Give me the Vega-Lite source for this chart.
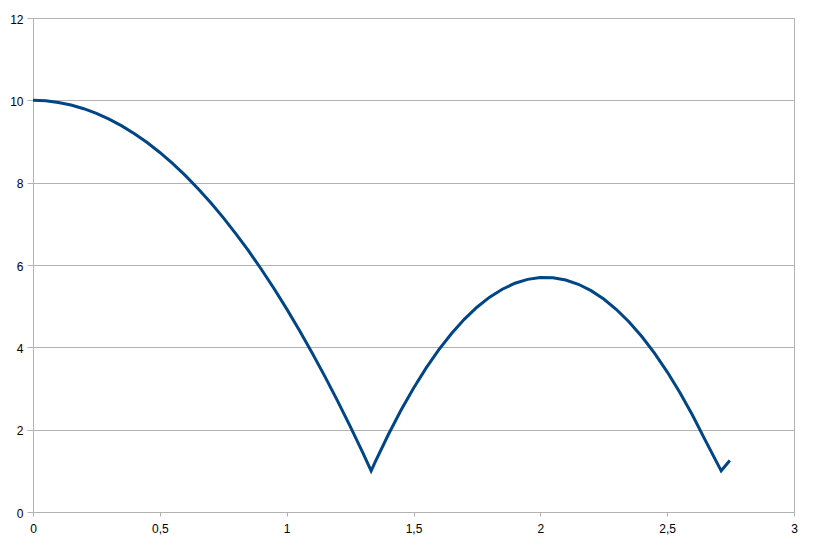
{
  "$schema": "https://vega.github.io/schema/vega-lite/v6.json",
  "width": 761,
  "height": 494,
  "autosize": "none",
  "padding": {"left": 33, "top": 18, "right": 27, "bottom": 36},
  "background": "white",
  "config": {
    "view": {"stroke": "#b3b3b3", "strokeWidth": 1},
    "font": "Liberation Sans",
    "axis": {
      "labelFont": "Liberation Sans",
      "labelFontSize": 12,
      "labelColor": "#000000",
      "domainColor": "#b3b3b3",
      "tickColor": "#b3b3b3",
      "gridColor": "#b3b3b3",
      "title": null
    }
  },
  "data": {
    "values": [
      {"t": 0, "h": 10}, {"t": 0.05, "h": 9.99}, {"t": 0.1, "h": 9.949}, {"t": 0.15, "h": 9.886},
      {"t": 0.2, "h": 9.797}, {"t": 0.25, "h": 9.683}, {"t": 0.3, "h": 9.544}, {"t": 0.35, "h": 9.38},
      {"t": 0.4, "h": 9.19}, {"t": 0.45, "h": 8.974}, {"t": 0.5, "h": 8.734}, {"t": 0.55, "h": 8.468},
      {"t": 0.6, "h": 8.177}, {"t": 0.65, "h": 7.86}, {"t": 0.7, "h": 7.518}, {"t": 0.75, "h": 7.151},
      {"t": 0.8, "h": 6.758}, {"t": 0.85, "h": 6.341}, {"t": 0.9, "h": 5.897}, {"t": 0.95, "h": 5.429},
      {"t": 1.0, "h": 4.935}, {"t": 1.05, "h": 4.416}, {"t": 1.1, "h": 3.871}, {"t": 1.15, "h": 3.301},
      {"t": 1.2, "h": 2.706}, {"t": 1.25, "h": 2.086}, {"t": 1.3, "h": 1.44}, {"t": 1.333, "h": 1.0},
      {"t": 1.35, "h": 1.229}, {"t": 1.4, "h": 1.871}, {"t": 1.45, "h": 2.464}, {"t": 1.5, "h": 3.007},
      {"t": 1.55, "h": 3.5}, {"t": 1.6, "h": 3.943}, {"t": 1.65, "h": 4.336}, {"t": 1.7, "h": 4.68},
      {"t": 1.75, "h": 4.974}, {"t": 1.8, "h": 5.218}, {"t": 1.85, "h": 5.412}, {"t": 1.9, "h": 5.557},
      {"t": 1.95, "h": 5.651}, {"t": 2.0, "h": 5.696}, {"t": 2.05, "h": 5.691}, {"t": 2.1, "h": 5.636},
      {"t": 2.15, "h": 5.532}, {"t": 2.2, "h": 5.377}, {"t": 2.25, "h": 5.173}, {"t": 2.3, "h": 4.919},
      {"t": 2.35, "h": 4.615}, {"t": 2.4, "h": 4.262}, {"t": 2.45, "h": 3.858}, {"t": 2.5, "h": 3.405},
      {"t": 2.55, "h": 2.902}, {"t": 2.6, "h": 2.349}, {"t": 2.65, "h": 1.747},
      {"t": 2.713, "h": 1.0}, {"t": 2.747, "h": 1.25}
    ]
  },
  "mark": {"type": "line", "color": "#004586", "strokeWidth": 3, "strokeJoin": "miter", "strokeMiterLimit": 10, "strokeCap": "butt"},
  "encoding": {
    "x": {
      "field": "t",
      "type": "quantitative",
      "scale": {"domain": [0, 3], "nice": false, "zero": false},
      "axis": {
        "values": [0, 0.5, 1, 1.5, 2, 2.5, 3],
        "labelExpr": "replace(format(datum.value, ''), '.', ',')",
        "grid": false,
        "tickSize": 4,
        "labelPadding": 7,
        "labelFlush": false
      }
    },
    "y": {
      "field": "h",
      "type": "quantitative",
      "scale": {"domain": [0, 12], "nice": false},
      "axis": {
        "values": [0, 2, 4, 6, 8, 10, 12],
        "grid": true,
        "tickSize": 6,
        "labelPadding": 4,
        "labelOffset": 1
      }
    }
  }
}
